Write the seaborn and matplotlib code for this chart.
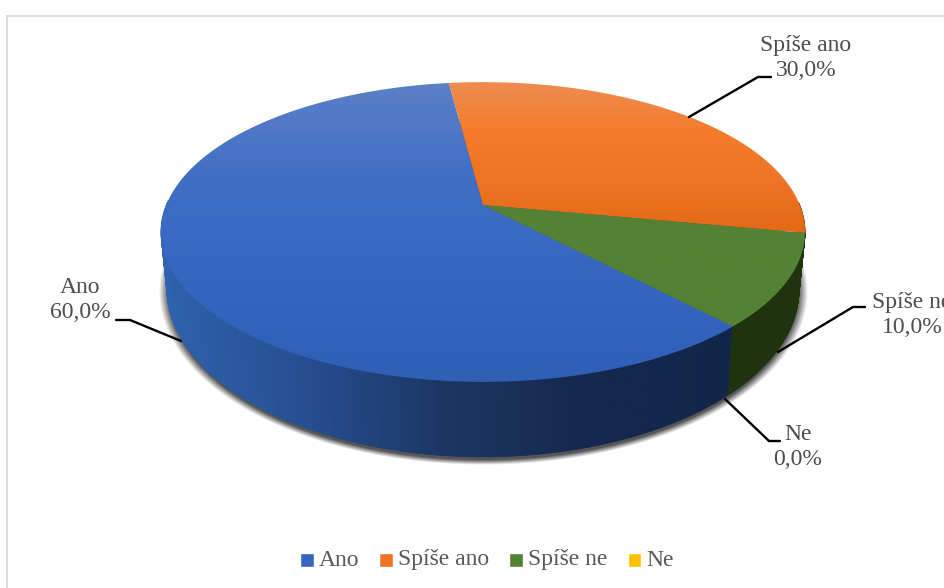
#!/usr/bin/env python3
"""Perspective 3D-style pie of survey answers, drawn with matplotlib on a seaborn theme."""

import matplotlib

matplotlib.use("Agg")

import matplotlib.pyplot as plt
import numpy as np
import seaborn as sns
from matplotlib.collections import PolyCollection
from matplotlib.patches import Polygon, Rectangle

CATEGORIES = ["Ano", "Spíše ano", "Spíše ne", "Ne"]
SHARES = [60.0, 30.0, 10.0, 0.0]
COLORS = ["#3566c0", "#ed7425", "#548235", "#ffc000"]

START_ANGLE = -46.7  # clockwise from here, degrees

# projection of the pie disc
CX, APEX_Y, RX, RY, PERSP = 483.0, 205.0, 316.7, 145.0, 0.18
WIDTH = 945
HEIGHT = 588


def project(theta):
    u, v = np.cos(theta), np.sin(theta)
    w = 1 + PERSP * v
    return CX + RX * u / w, APEX_Y - RY * v / w


def lower(x, y):
    return CX + (x - CX) * 316 / 322, 289 + (y - 232) * 168 / 150


def gradient_fill(ax, poly_xy, colors, y0, y1, zorder):
    cmap = sns.blend_palette(colors, as_cmap=True)
    grad = np.linspace(0, 1, 256).reshape(-1, 1)
    img = ax.imshow(grad, cmap=cmap, aspect="auto", extent=(100, 850, y1, y0), zorder=zorder)
    patch = Polygon(poly_xy, closed=True, transform=ax.transData, facecolor="none", edgecolor="none")
    ax.add_patch(patch)
    img.set_clip_path(patch)


def draw_shadow(ax):
    yy, xx = np.mgrid[0:HEIGHT, 0:WIDTH]
    r = np.sqrt(((xx - CX) / 320.0) ** 2 + ((yy - 291.0) / 171.0) ** 2)
    alpha = np.clip((1.014 - r) / 0.03, 0, 1) * 0.85
    rgba = np.zeros((HEIGHT, WIDTH, 4))
    rgba[..., :3] = 0.22
    rgba[..., 3] = alpha
    ax.imshow(rgba, extent=(0, WIDTH, HEIGHT, 0), aspect="auto", zorder=1)


def main():
    sns.set_theme(style="white")
    plt.rcParams["font.family"] = ["Liberation Serif", "DejaVu Serif"]

    fig = plt.figure(figsize=(WIDTH / 100, HEIGHT / 100), dpi=100)
    ax = fig.add_axes((0, 0, 1, 1))
    ax.axis("off")

    ax.add_patch(Rectangle((7, 16), 1000, 700, facecolor="white", edgecolor="#dcdcdc", linewidth=1.4, zorder=0))
    draw_shadow(ax)

    sweeps = np.deg2rad(np.array(SHARES) / sum(SHARES) * 360)
    ends = np.deg2rad(START_ANGLE) - np.cumsum(sweeps)
    starts = ends + sweeps

    wall_blue = sns.blend_palette(["#2f63ae", "#264f92", "#1c3664", "#15294f", "#12264a"], as_cmap=True)
    tops = {
        0: ["#5c80c8", "#3f6ec4", "#3566c0", "#2f60b6"],
        1: ["#ef8c52", "#f47b2a", "#ed7425", "#e36915"],
        2: ["#548235", "#548235"],
        3: ["#ffc000", "#ffc000"],
    }
    walls = {1: "#8a4a18", 2: "#20330f", 3: "#7f6000"}

    # side walls first, then the top faces over them; the back of the wall is hidden anyway
    for i, (a, b) in enumerate(zip(starts, ends)):
        if a == b:
            continue
        t = np.linspace(a, b, 241)
        x, y = project(t)
        xl, yl = lower(x, y)
        front = [k for k in range(len(t) - 1) if np.sin(t[k]) < 0.02]
        if not front:
            continue
        quads = [
            [(x[k], y[k]), (x[k + 1], y[k + 1]), (xl[k + 1], yl[k + 1]), (xl[k], yl[k])]
            for k in front
        ]
        if i == 0:
            cols = [wall_blue((x[k] - 161) / (725 - 161)) for k in front]
        else:
            cols = [walls[i]] * len(front)
        ax.add_collection(PolyCollection(quads, facecolors=cols, edgecolors=cols, linewidths=0.6, zorder=2))

    for i, (a, b) in enumerate(zip(starts, ends)):
        if a == b:
            continue
        t = np.linspace(a, b, 361)
        x, y = project(t)
        poly = np.column_stack([np.r_[CX, x], np.r_[APEX_Y, y]])
        gradient_fill(ax, poly, tops[i], poly[:, 1].min(), poly[:, 1].max(), 3 + i * 0.1)

    # leader lines and data labels
    leaders = [
        [(116, 320), (130, 320), (181, 341)],
        [(771, 77), (758, 77), (689, 117)],
        [(865, 307), (853, 307), (778, 352)],
        [(780, 441), (769, 441), (725, 399)],
    ]
    label_pos = [(80, 300), (806, 58), (912, 315), (798, 447)]
    for cat, share, line, pos in zip(CATEGORIES, SHARES, leaders, label_pos):
        lx, ly = zip(*line)
        ax.plot(lx, ly, color="black", lw=1.7, solid_joinstyle="miter", zorder=5)
        text = f"{cat}\n{share:.1f}%".replace(".", ",")
        ax.text(pos[0], pos[1], text, ha="center", va="center", fontsize=17, color="#4d4d4d",
                linespacing=1.3, zorder=6)

    handles = [Rectangle((0, 0), 1, 1, facecolor=c) for c in COLORS]
    legend = ax.legend(
        handles, CATEGORIES, loc="center", bbox_to_anchor=(487 / WIDTH, 1 - 560 / HEIGHT),
        ncol=4, frameon=False, fontsize=17, labelcolor="#595959", handlelength=0.58, handleheight=0.58,
        handletextpad=0.22, columnspacing=0.85, borderpad=0,
    )
    for patch in legend.get_patches():
        patch.set_y(patch.get_y() - 2)

    ax.set_xlim(0, WIDTH)
    ax.set_ylim(HEIGHT, 0)
    fig.savefig("out.png", dpi=100, facecolor="white")
    plt.close(fig)


if __name__ == "__main__":
    main()
